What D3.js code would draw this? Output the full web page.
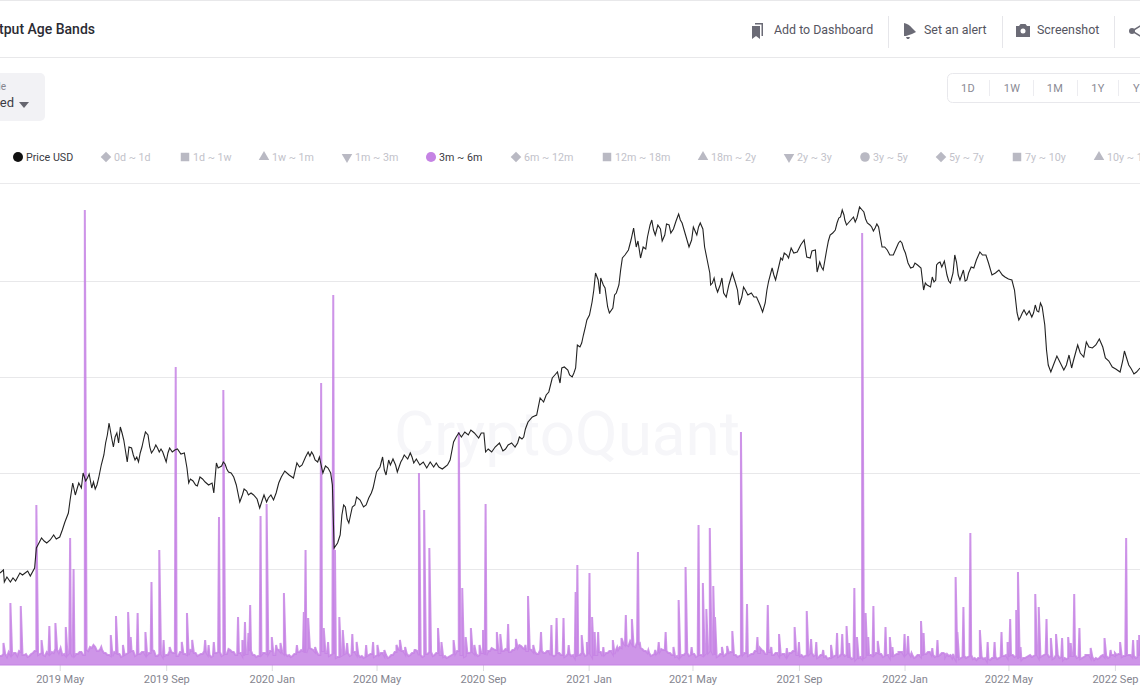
<!DOCTYPE html>
<html>
<head>
<meta charset="utf-8">
<script src="https://cdn.jsdelivr.net/npm/d3@7"></script>
<style>
    html, body { margin: 0; padding: 0; background: #fff; overflow: hidden; }
    text { font-family: Roboto, sans-serif; }
</style>
</head>
<body>
<div id="chart"></div>
<script>
// Spent Output Age Bands, only the 3m ~ 6m band and the price are switched on.
// The y axis labels are cut off in the picture, so values are in chart units (96 units per gridline).
const firstDay = new Date(2019, 1, 21);
const tickDates = [[2019, 4], [2019, 8], [2020, 0], [2020, 4], [2020, 8], [2021, 0], [2021, 4], [2021, 8], [2022, 0], [2022, 4], [2022, 8]];
const gridValues = [96, 192, 288, 384];

// price line, day number since firstDay and value
const priceDays = [0,4,5,12,15,23,29,35,40,42,48,54,62,65,69,75,79,81,84,87,91,94,96,101,103,106,110,114,117,122,126,129,131,135,137,139,143,147,149,152,156,160,164,168,171,175,180,184,188,192,196,202,213,216,218,223,228,231,237,245,247,250,256,260,264,270,273,277,282,287,293,300,305,310,316,322,329,339,343,349,356,360,364,369,373,379,384,386,390,395,399,403,407,412,420,426,431,435,
    439,442,446,449,454,459,463,467,476,478,489,493,501,504,514,520,524,530,533,544,553,559,561,568,577,581,587,595,600,605,610,620,624,628,634,638,644,647,649,656,661,665,667,672,676,681,684,688,693,694,699,702,708,710,715,719,726,732,735,740,743,746,753,755,760,765,770,778,784,788,796,801,805,809,814,820,821,825,829,834,839,842,846,852,854,861,871,881,886,892,896,902,906,911,914,921,929,932,
    936,938,942,944,947,951,955,959,965,969,973,976,980,986,990,993,998,1002,1007,1011,1015,1019,1025,1032,1038,1042,1046,1052,1057,1064,1067,1071,1079,1082,1086,1091,1098,1105,1109,1113,1117,1125,1132,1139,1146,1154,1161,1169,1175,1179,1183,1192,1196,1200,1204,1209,1214,1221,1229,1235,1238,1245,1252,1255,1262,1270,1277,1285,1294,1299,1304,1310,1317];
const priceValues = [92,95,83,83,87,92,92,89,97,117,127,122,130,126,128,143,152,165,182,170,182,177,192,187,191,177,176,187,200,222,242,227,218,232,222,238,225,203,218,217,205,203,218,233,230,212,220,213,213,203,217,215,212,197,182,184,179,188,183,182,172,202,199,201,193,188,180,163,176,170,170,157,170,167,165,182,194,187,202,200,213,213,205,208,192,197,180,117,122,150,158,142,158,168,158,167,177,193,
    198,208,190,205,206,193,203,210,208,202,203,197,198,202,198,205,223,232,228,235,227,232,213,213,222,214,220,218,228,228,243,250,267,263,273,287,293,282,297,295,288,297,320,322,337,350,363,392,371,387,377,358,357,370,380,407,415,437,418,407,418,416,445,435,440,424,441,436,451,442,418,438,430,442,418,392,380,387,373,387,368,380,392,375,360,375,368,353,375,397,385,407,412,407,417,413,425,408,
    407,414,415,393,403,395,415,430,435,447,455,445,442,448,447,458,453,442,438,437,438,418,415,410,422,422,412,397,402,397,375,380,383,400,403,404,382,403,385,395,385,397,413,410,390,395,388,385,352,348,355,348,360,353,358,315,293,309,295,310,297,320,308,323,317,326,307,298,293,314,300,291,297];
// finer wiggles of the price between the points above
const priceDetailDays = [8,18,26,32,45,51,58,72,99,108,112,120,124,133,141,145,154,158,162,166,173,178,182,186,190,194,199,205,209,220,226,234,241,252,258,262,267,280,285,290,297,303,308,313,319,325,334,346,353,358,362,367,376,382,393,397,401,405,410,416,423,429,
    444,451,457,461,465,471,474,481,485,491,497,507,511,517,527,537,541,548,556,564,572,579,584,591,598,603,607,615,631,641,652,658,663,670,674,678,686,691,697,704,712,717,722,729,737,748,751,757,763,768,773,775,781,786,792,799,803,807,812,817,823,827,832,836,844,849,857,859,864,868,874,878,884,888,894,899,904,909,917,925,
    949,953,957,962,967,971,975,978,983,988,996,1000,1005,1009,1013,1017,1022,1028,1035,1040,1044,1049,1055,1060,1069,1075,1077,1081,1084,1088,1094,1096,1101,1103,1107,1111,1115,1119,1122,1128,1135,1142,1150,1158,1165,1172,1177,1181,1186,1189,1194,1198,1202,1207,1211,1217,1225,1232,1240,1248,1258,1266,1274,1281,1289,1297,1307,1313];
const priceDetailValues = [88,84,90,94,122,124,125,135,184,183,180,210,230,228,232,214,210,208,212,226,218,216,217,216,208,212,213,216,211,186,180,186,180,197,203,196,192,170,174,172,166,165,163,170,172,188,190,198,208,209,210,203,199,192,130,160,146,150,160,165,160,172,
    195,200,200,198,206,206,212,206,200,200,203,198,196,200,228,233,230,232,232,216,218,218,216,222,222,226,236,248,270,290,298,290,292,318,330,345,375,385,380,352,372,395,410,425,424,428,440,430,436,430,440,432,444,445,430,425,434,438,436,405,382,378,380,372,386,384,368,378,370,372,368,360,362,384,390,396,405,410,412,420,
    398,405,424,432,442,448,450,440,445,443,455,446,440,434,441,428,418,410,416,424,416,402,398,400,382,378,388,385,402,398,390,384,392,410,390,390,384,392,398,405,410,402,392,390,386,375,345,352,350,354,352,354,362,340,300,300,302,300,304,312,318,320,318,304,296,304,296,293];

// 3m ~ 6m flow, the low band read every 4 days and again half way between
const bandValues = [9,11,8,10,12,9,13,10,8,11,14,10,12,9,11,13,16,12,10,9,12,8,11,13,10,15,18,20,14,16,12,10,9,13,11,8,10,12,14,9,11,13,10,12,15,9,11,8,10,14,
    12,9,13,11,10,15,12,9,11,14,10,8,12,13,9,11,16,13,10,12,9,11,14,10,8,9,12,11,14,10,16,13,11,9,8,11,13,15,12,18,16,13,10,14,12,9,11,7,8,10,
    12,9,13,10,8,7,9,11,8,10,12,9,7,10,13,16,14,11,9,12,15,10,8,11,13,9,12,10,8,7,9,11,14,10,8,12,13,11,9,12,10,14,17,15,12,14,16,13,15,18,
    20,17,14,16,13,11,15,12,14,10,9,12,10,8,11,9,7,10,12,9,11,8,10,13,9,12,14,11,16,18,22,20,24,19,23,17,14,12,9,11,13,16,15,12,10,8,7,10,12,9,
    11,8,10,9,12,14,10,8,11,9,12,13,10,8,10,12,9,11,14,12,15,11,13,10,12,9,11,8,12,14,10,9,8,10,12,9,7,10,8,6,7,9,8,11,9,7,6,5,7,6,
    8,10,9,12,11,8,10,7,9,11,13,10,12,9,7,10,8,11,13,10,8,9,12,11,9,7,5,6,8,7,9,6,5,7,6,4,5,7,6,8,9,7,10,8,6,5,7,9,8,10,
    7,9,11,8,6,10,7,5,6,8,9,7,6,8,10,7,5,6,9,8,7,10,9,11,8,9,10,8,7,9];
const bandHalfValues = [9,11,13,10,12,14,10,11,9,12,14,11,10,13,11,12,15,17,11,10,12,9,11,13,10,14,17,18,14,15,12,10,9,12,11,9,11,12,14,10,11,13,10,12,14,9,11,9,10,13,
    12,9,13,11,10,14,12,10,11,13,10,9,12,13,10,11,15,13,10,12,9,11,14,10,9,10,12,11,14,10,15,13,11,10,9,11,13,14,12,17,15,13,10,14,12,10,11,8,9,11,
    12,10,13,10,9,8,10,11,9,10,12,10,8,10,13,15,14,11,10,12,14,10,9,11,13,10,12,10,9,8,10,11,14,10,9,12,13,11,10,12,10,14,16,15,12,14,15,13,15,17,
    19,16,14,15,13,11,14,12,14,10,10,12,10,9,11,10,8,10,12,10,11,9,10,13,10,12,14,11,15,17,20,19,21,18,20,16,14,12,10,11,13,15,14,12,10,9,8,10,12,10,
    11,9,10,10,12,14,10,9,11,10,12,13,10,9,10,12,10,11,14,12,14,11,13,10,12,10,11,9,12,14,10,10,9,10,12,10,8,10,9,7,8,10,9,11,10,8,7,7,8,7,
    9,10,10,12,11,9,10,8,10,11,13,10,12,10,8,10,9,11,13,10,9,10,12,11,10,8,7,7,9,8,10,7,7,8,7,6,7,8,7,9,10,8,10,9,7,7,8,10,9,10,
    8,10,11,9,7,10,8,7,7,9,10,8,7,9,10,8,7,7,10,9,8,10,10,11,9,10,10,9,8,10];

// the spikes above the band
const spikeDays = [4,12,24,42,48,57,64,76,81,85,98,117,128,134,142,148,151,159,168,175,184,189,196,203,210,216,222,237,241,247,253,258,275,280,283,287,289,301,308,314,319,324,328,343,351,353,356,364,371,374,379,385,387,392,396,401,407,412,423,431,436,
    444,458,462,468,479,484,490,496,506,510,524,530,534,538,544,548,554,558,561,574,578,587,596,607,610,616,625,637,643,651,657,665,667,672,678,681,684,687,691,697,708,713,718,723,730,737,739,749,757,761,769,778,784,792,799,807,812,816,820,824,826,834,840,846,856,863,875,
    878,887,891,900,909,918,923,932,937,943,951,960,967,973,978,981,987,990,996,1000,1003,1009,1014,1023,1028,1031,1038,1045,1049,1053,1064,1067,1074,1077,1083,1092,1101,1104,1106,1113,1121,1132,1141,1149,1157,1164,1167,1174,1176,1179,1190,1196,1200,1209,1214,1220,1227,1234,1237,1241,1247,1254,1260,1276,1283,1288,1294,1301,1309,1314,1316];
const spikeValues = [22,62,59,160,25,39,42,38,127,96,455,18,30,49,20,53,28,52,33,83,115,25,18,298,23,52,25,25,20,23,148,275,48,25,43,32,60,149,161,28,20,22,72,20,53,115,47,18,282,37,23,370,115,48,35,22,31,23,20,23,20,
    15,20,25,18,15,192,155,117,37,23,25,233,77,28,37,20,20,35,161,33,31,41,26,20,69,20,33,40,47,47,20,73,100,30,23,92,48,33,33,18,25,18,27,50,46,113,23,15,15,23,33,18,65,98,18,140,82,56,137,79,48,18,19,34,233,61,28,
    17,60,18,31,17,38,23,54,26,23,15,20,32,31,39,22,77,28,432,52,28,59,24,38,28,18,13,31,29,12,44,32,13,17,25,8,11,88,33,58,132,35,23,23,33,23,46,55,93,18,10,71,58,46,27,31,27,28,22,71,37,10,17,27,15,12,23,127,25,25,30];

const legendItems = ["0d ~ 1d", "1d ~ 1w", "1w ~ 1m", "1m ~ 3m", "3m ~ 6m", "6m ~ 12m", "12m ~ 18m", "18m ~ 2y", "2y ~ 3y", "3y ~ 5y", "5y ~ 7y", "7y ~ 10y", "10y ~ 15y"];
const legendShapes = ["diamond", "square", "up", "down", "circle"];
const legendX = [106, 185, 264, 347, 431, 516, 607, 703, 789, 865, 941, 1017, 1099];
const rangeLabels = ["1D", "1W", "1M", "1Y", "YTD"];
const rangeX = [968, 1012, 1055, 1098, 1133];

const width = 1140;
const height = 694;
const flowColor = "#c583e4";

const svg = d3.select("#chart").append("svg")
    .attr("width", width)
    .attr("height", height)
    .style("display", "block");

const x = d3.scaleTime()
    .domain([firstDay, d3.timeDay.offset(firstDay, 1317)])
    .range([0, width]);
const y = d3.scaleLinear().domain([0, 480]).range([665, 185]);

// header
svg.append("line").attr("x1", 0).attr("x2", width).attr("y1", 0.5).attr("y2", 0.5).attr("stroke", "#e8e8ea");
svg.append("line").attr("x1", 0).attr("x2", width).attr("y1", 57.5).attr("y2", 57.5).attr("stroke", "#e8e8ea");
svg.append("text").attr("x", 95).attr("y", 34).attr("text-anchor", "end")
    .attr("font-size", 14).attr("font-weight", 500).attr("fill", "#2b2b33")
    .text("Spent Output Age Bands");

const actions = [["Add to Dashboard", 774], ["Set an alert", 924], ["Screenshot", 1037]];
actions.forEach(a => {
    svg.append("text").attr("x", a[1]).attr("y", 33.5)
        .attr("font-size", 12.4).attr("fill", "#55555f").text(a[0]);
});
[888, 1002, 1114].forEach(sx => {
    svg.append("line").attr("x1", sx + 0.5).attr("x2", sx + 0.5).attr("y1", 16).attr("y2", 48).attr("stroke", "#e6e6ea");
});
// icons: bookmark, bell, camera, share
svg.append("path").attr("fill", "#6b6b76").attr("d", "M752 26h8v13l-4-3-4 3zM755 23h8v13h-1.500v-11.500h-6.500z");
svg.append("path").attr("fill", "#6b6b76").attr("d", "M904 23q5 1 8 5l4 4-4 2-6 2-2 0zM906 37h4l-1 2h-2z");
svg.append("path").attr("fill", "#6b6b76").attr("d", "M1016 26h3l1.500-2h5l1.500 2h3v11h-14z");
svg.append("circle").attr("cx", 1023).attr("cy", 31).attr("r", 2.5).attr("fill", "#fff");
svg.append("path").attr("fill", "none").attr("stroke", "#6b6b76").attr("stroke-width", 1.500).attr("d", "M1142 25l-10 6 10 6");
svg.append("circle").attr("cx", 1132).attr("cy", 31).attr("r", 3).attr("fill", "#6b6b76");

// left dropdown
svg.append("rect").attr("x", -10).attr("y", 73).attr("width", 55).attr("height", 48).attr("rx", 5).attr("fill", "#f2f2f5");
svg.append("text").attr("x", 6).attr("y", 90).attr("text-anchor", "end").attr("font-size", 10).attr("fill", "#85858f").text("Scale");
svg.append("text").attr("x", 14).attr("y", 107).attr("text-anchor", "end").attr("font-size", 13).attr("fill", "#3c3c44").text("Stacked");
svg.append("path").attr("d", "M19 102h10l-5 6z").attr("fill", "#66666f");

// range buttons
svg.append("rect").attr("x", 947.5).attr("y", 73.5).attr("width", 230).attr("height", 29).attr("rx", 5)
    .attr("fill", "#fff").attr("stroke", "#e8e8ec");
rangeLabels.forEach((d, i) => {
    svg.append("text").attr("x", rangeX[i]).attr("y", 91.5).attr("text-anchor", i === 4 ? "start" : "middle")
        .attr("font-size", 11).attr("letter-spacing", 0.3).attr("fill", "#8a8a94")
        .text(d);
});
[989, 1033, 1077, 1118].forEach(sx => {
    svg.append("line").attr("x1", sx + 0.5).attr("x2", sx + 0.5).attr("y1", 80).attr("y2", 96).attr("stroke", "#ececf0");
});

// legend
svg.append("circle").attr("cx", 18).attr("cy", 157).attr("r", 5).attr("fill", "#111");
svg.append("text").attr("x", 26).attr("y", 161).attr("font-size", 10.7).attr("fill", "#3a3a42").text("Price USD");
legendItems.forEach((d, i) => {
    const on = d === "3m ~ 6m";
    const shape = legendShapes[i % 5];
    const lx = legendX[i];
    const turn = {diamond: 45, down: 180}[shape] || 0;
    const type = {diamond: d3.symbolSquare, square: d3.symbolSquare, up: d3.symbolTriangle, down: d3.symbolTriangle, circle: d3.symbolCircle}[shape];
    const size = on ? 80 : {diamond: 56, square: 72, up: 48, down: 48, circle: 72}[shape];
    svg.append("path")
        .attr("transform", `translate(${lx},157) rotate(${turn})`)
        .attr("d", d3.symbol().type(type).size(size)())
        .attr("fill", on ? flowColor : "#b9b9c3");
    svg.append("text").attr("x", lx + 8).attr("y", 161).attr("font-size", 10.7)
        .attr("fill", on ? "#3a3a42" : "#c2c2ca").text(d);
});

// gridlines
svg.append("line").attr("x1", 0).attr("x2", width).attr("y1", 183.5).attr("y2", 183.5).attr("stroke", "#eaeaec");
svg.selectAll(".grid")
    .data(gridValues)
    .enter().append("line")
    .attr("class", "grid")
    .attr("x1", 0).attr("x2", width)
    .attr("y1", d => Math.round(y(d)) + 0.5)
    .attr("y2", d => Math.round(y(d)) + 0.5)
    .attr("stroke", "#e8e8ea");

// watermark
svg.append("text").attr("x", 567).attr("y", 455).attr("text-anchor", "middle")
    .attr("font-size", 62).attr("font-weight", 400).attr("fill", "#f6f6f9")
    .text("CryptoQuant");

// x axis
const xAxis = d3.axisBottom(x)
    .tickValues(tickDates.map(d => new Date(d[0], d[1], 1)))
    .tickFormat(d3.timeFormat("%Y %b"))
    .tickSize(6);
const axisG = svg.append("g").attr("transform", "translate(0,665)").call(xAxis);
axisG.select(".domain").remove();
axisG.selectAll("line").attr("stroke", "#dcdce0");
axisG.selectAll("text").attr("font-size", 11).attr("fill", "#85858f").attr("font-family", "Roboto, sans-serif").attr("dy", "0.85em");

// flow = band points and spikes together, in day order
const flowData = bandValues.map((v, i) => ({day: i * 4, value: v}))
    .concat(bandHalfValues.map((v, i) => ({day: i * 4 + 2, value: v})))
    .concat(spikeDays.map((d, i) => ({day: d, value: spikeValues[i]})))
    .sort((a, b) => a.day - b.day);

const dayX = d => x(d3.timeDay.offset(firstDay, d));

const flowArea = d3.area().x(d => dayX(d.day)).y0(y(0)).y1(d => y(d.value));
const flowLine = d3.line().x(d => dayX(d.day)).y(d => y(d.value));

svg.append("path").datum(flowData).attr("d", flowArea).attr("fill", flowColor).attr("fill-opacity", 0.85);
svg.append("path").datum(flowData).attr("d", flowLine).attr("fill", "none").attr("stroke", flowColor).attr("stroke-width", 2).attr("stroke-opacity", 0.85);
svg.append("line").attr("x1", 0).attr("x2", width).attr("y1", y(0)).attr("y2", y(0)).attr("stroke", flowColor).attr("stroke-width", 1);

// price, main points and wiggles in day order
const priceData = priceDays.map((d, i) => ({day: d, value: priceValues[i]}))
    .concat(priceDetailDays.map((d, i) => ({day: d, value: priceDetailValues[i]})))
    .sort((a, b) => a.day - b.day);
const priceLine = d3.line().x(d => dayX(d.day)).y(d => y(d.value));
svg.append("path").datum(priceData).attr("d", priceLine).attr("fill", "none").attr("stroke", "#222").attr("stroke-width", 1.1);
</script>
</body>
</html>
